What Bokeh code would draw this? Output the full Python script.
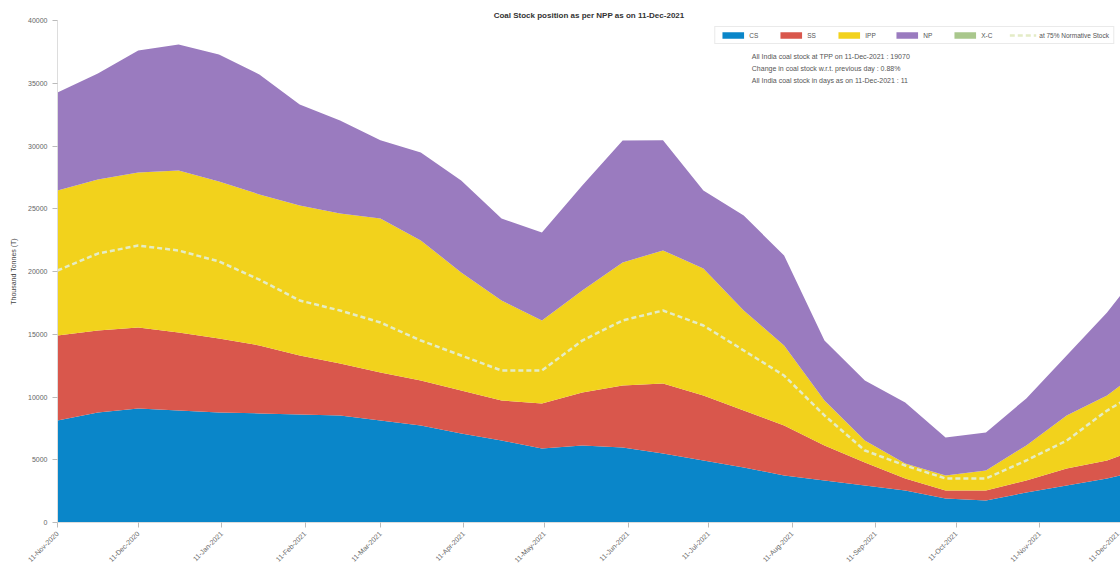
import pandas as pd
from bokeh.plotting import figure
from bokeh.models import (ColumnDataSource, FixedTicker, DatetimeTickFormatter, Label,
                          Legend, LegendItem, Range1d)
from bokeh.embed import file_html
from bokeh.resources import INLINE

# ---- data (thousand tonnes) ----
dates = ["2020-11-11", "2020-11-26", "2020-12-11", "2020-12-26", "2021-01-10", "2021-01-25",
         "2021-02-09", "2021-02-24", "2021-03-11", "2021-03-26", "2021-04-10", "2021-04-25",
         "2021-05-10", "2021-05-25", "2021-06-09", "2021-06-24", "2021-07-09", "2021-07-24",
         "2021-08-08", "2021-08-23", "2021-09-07", "2021-09-22", "2021-10-07", "2021-10-22",
         "2021-11-06", "2021-11-21", "2021-12-06", "2021-12-11"]
cs = [8130, 8770, 9080, 8920, 8770, 8690, 8610, 8530, 8130, 7730, 7090, 6530, 5900, 6140,
      5980, 5500, 4940, 4380, 3750, 3350, 2950, 2550, 1910, 1750, 2390, 2950, 3510, 3750]
ss = [6770, 6530, 6450, 6220, 5900, 5420, 4700, 4140, 3830, 3590, 3430, 3190, 3590, 4220,
      4940, 5580, 5180, 4540, 3980, 2790, 1830, 960, 640, 800, 960, 1360, 1430, 1590]
ipp = [11550, 12030, 12350, 12910, 12510, 12030, 11950, 11950, 12270, 11160, 9400, 7970,
       6610, 8130, 9800, 10600, 10120, 7970, 6370, 3590, 1750, 1200, 1200, 1590, 2790, 4220,
       5180, 5580]
np_ = [7810, 8450, 9720, 10040, 10120, 9560, 8050, 7410, 6220, 7010, 7330, 6530, 7010, 8370,
       9720, 8770, 6220, 7570, 7170, 4780, 4780, 4860, 3030, 3030, 3750, 4780, 6610, 7170]
xc = [0] * len(dates)
norm_stock = [20080, 21430, 22070, 21670, 20800, 19360, 17690, 16890, 15940, 14500, 13310,
              12110, 12110, 14500, 16100, 16890, 15700, 13710, 11710, 8530, 5740, 4540, 3510,
              3510, 4940, 6530, 8920, 9560]
tick_dates = ["2020-11-11", "2020-12-11", "2021-01-11", "2021-02-11", "2021-03-11",
              "2021-04-11", "2021-05-11", "2021-06-11", "2021-07-11", "2021-08-11",
              "2021-09-11", "2021-10-11", "2021-11-11", "2021-12-11"]
y_ticks = [0, 5000, 10000, 15000, 20000, 25000, 30000, 35000, 40000]
names = ["CS", "SS", "IPP", "NP", "X-C"]
colors = ["#0a86c9", "#d9574c", "#f2d21c", "#9a7bbf", "#a9c78c"]

FONT = "Liberation Sans"
x = pd.to_datetime(dates)
src = ColumnDataSource(dict(x=x, CS=cs, SS=ss, IPP=ipp, NP=np_, XC=xc, norm=norm_stock))

p = figure(width=1120, height=574, x_axis_type="datetime", output_backend="svg",
           toolbar_location=None, min_border_left=57, min_border_right=0,
           min_border_top=20, min_border_bottom=52)
p.x_range = Range1d(x[0], x[-1])
p.y_range = Range1d(0, 40000)

rs = p.varea_stack(stackers=["CS", "SS", "IPP", "NP", "XC"], x="x", color=colors, source=src)
ln = p.line("x", "norm", source=src, line_color="#e4ecc6", line_width=2.5, line_dash="5 3")

items = [LegendItem(label=n, renderers=[r]) for n, r in zip(names, rs)]
items.append(LegendItem(label="at 75% Normative Stock", renderers=[ln]))
leg = Legend(items=items, orientation="horizontal", location="top_right",
             label_text_font=FONT, label_text_font_size="6.5px", label_text_color="#555555",
             glyph_width=27, glyph_height=8, spacing=8, label_standoff=3,
             padding=4, margin=6, border_line_color="#d5d5d5", background_fill_alpha=1)
p.add_layout(leg)

p.title.text = "Coal Stock position as per NPP as on 11-Dec-2021"
p.title.align = "center"
p.title.text_font = FONT
p.title.text_font_size = "8px"
p.title.text_color = "#333333"
p.title.offset = -45
p.title.standoff = 2

p.xgrid.visible = False
p.ygrid.visible = False
p.outline_line_color = None

tick_ms = [pd.Timestamp(d).value // 10**6 for d in tick_dates]
p.xaxis.ticker = FixedTicker(ticks=tick_ms)
fmt = "%d-%b-%Y"
p.xaxis.formatter = DatetimeTickFormatter(days=fmt, months=fmt, years=fmt, hours=fmt,
                                          minutes=fmt, seconds=fmt, milliseconds=fmt,
                                          microseconds=fmt, minsec=fmt, hourmin=fmt)
p.xaxis.major_label_orientation = 0.785
p.yaxis.ticker = FixedTicker(ticks=y_ticks)
p.yaxis.axis_label = "Thousand Tonnes (T)"
for ax in (p.xaxis, p.yaxis):
    ax.major_label_text_font = FONT
    ax.major_label_text_font_size = "7px"
    ax.major_label_text_color = "#666666"
    ax.axis_line_color = "#dddddd"
    ax.major_tick_line_color = "#bbbbbb"
    ax.minor_tick_line_color = None
    ax.major_tick_out = 5
    ax.major_tick_in = 0
p.yaxis.axis_label_text_font = FONT
p.yaxis.axis_label_text_font_size = "7px"
p.yaxis.axis_label_text_font_style = "normal"
p.yaxis.axis_label_text_color = "#444444"
p.yaxis.axis_label_standoff = 8

notes = ["All India coal stock at TPP on 11-Dec-2021 : 19070",
         "Change in coal stock w.r.t. previous day :   0.88%",
         "All India coal stock in days as on 11-Dec-2021 : 11"]
note_x = pd.Timestamp("2021-07-27").value // 10**6
for i, t in enumerate(notes):
    p.add_layout(Label(x=note_x, y=37100 - i * 930, text=t, text_font=FONT,
                       text_font_size="7px", text_color="#555555", text_baseline="middle"))

open("out.html", "w").write(file_html(p, INLINE))
